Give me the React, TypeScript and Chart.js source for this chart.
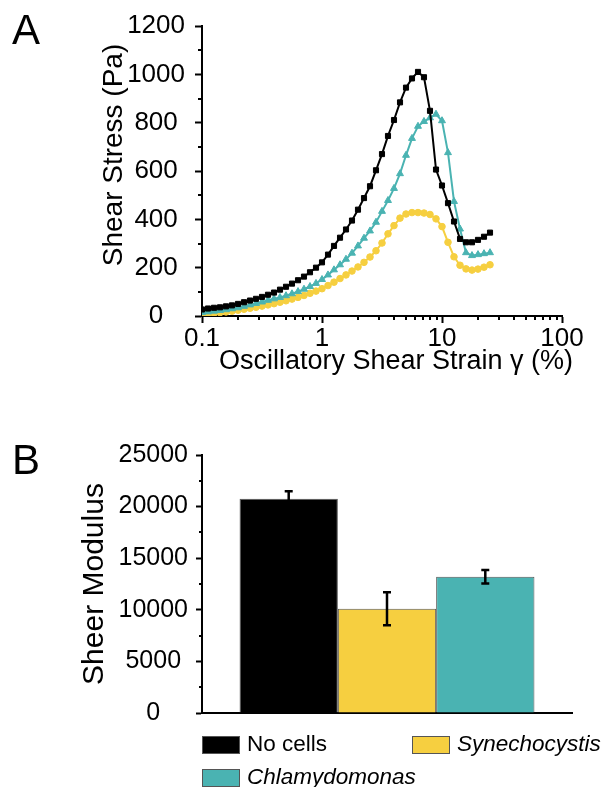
import React, { useEffect, useRef } from 'react';
import { Chart, registerables } from 'chart.js';

Chart.register(...registerables);

// ---------- Panel A data ----------
const STRAIN = [
  0.1, 0.1122, 0.1259, 0.1413, 0.1585, 0.1778, 0.1995, 0.2239, 0.2512, 0.2818,
  0.3162, 0.3548, 0.3981, 0.4467, 0.5012, 0.5623, 0.631, 0.7079, 0.7943, 0.8913,
  1.0, 1.122, 1.259, 1.413, 1.585, 1.778, 1.995, 2.239, 2.512, 2.818,
  3.162, 3.548, 3.981, 4.467, 5.012, 5.623, 6.31, 7.079, 7.943, 8.913,
  10.0, 11.22, 12.59, 14.13, 15.85, 17.78, 19.95, 22.39, 25.12,
];
const NO_CELLS_STRESS = [
  27, 31, 34, 36, 40, 44, 50, 57, 64, 71,
  79, 88, 97, 109, 121, 134, 148, 163, 181, 200,
  222, 254, 290, 324, 358, 395, 440, 488, 537, 603,
  670, 745, 811, 884, 945, 983, 1010, 988, 849, 606,
  540, 467, 391, 319, 305, 305, 315, 328, 345,
];
const CHLAMY_STRESS = [
  14, 17, 20, 23, 26, 30, 34, 40, 46, 52,
  58, 65, 71, 77, 84, 92, 101, 111, 122, 135,
  151, 170, 191, 212, 235, 260, 290, 322, 352, 388,
  433, 478, 528, 589, 665, 735, 785, 805, 820, 835,
  808, 676, 474, 360, 262, 250, 254, 258, 262,
];
const SYNECHO_STRESS = [
  7, 9, 11, 14, 17, 20, 24, 28, 32, 36,
  41, 46, 51, 57, 63, 70, 77, 85, 94, 103,
  113, 126, 140, 155, 170, 186, 203, 222, 244, 270,
  302, 340, 374, 405, 422, 428, 428, 426, 420, 402,
  370, 305, 245, 210, 195, 190, 194, 202, 212,
];
const STRAIN_MAJOR_TICKS = [0.1, 1, 10, 100];
const STRAIN_MINOR_TICKS = [
  0.2, 0.3, 0.4, 0.5, 0.6, 0.7, 0.8, 0.9,
  2, 3, 4, 5, 6, 7, 8, 9,
  20, 30, 40, 50, 60, 70, 80, 90,
];
const STRESS_MINOR_TICKS = [100, 300, 500, 700, 900, 1100];
const STRAIN_TITLE = 'Oscillatory Shear Strain γ (%)';
const STRESS_TITLE = 'Shear Stress (Pa)';

// ---------- Panel B data ----------
const GROUPS = ['No cells', 'Synechocystis', 'Chlamydomonas'];
const MODULUS = [20750, 10100, 13200];
const MODULUS_ERR = [730, 1600, 650];
const MODULUS_MINOR_TICKS = [2500, 7500, 12500, 17500, 22500];
const MODULUS_TITLE = 'Sheer Modulus';

const BLACK = '#000000';
const YELLOW = '#f6cf40';
const TEAL = '#4ab3b2';
const GROUP_COLORS = [BLACK, YELLOW, TEAL];

const FONT = '"Liberation Sans", Arial, Helvetica, sans-serif';

const minorTicksPlugin = {
  id: 'minorTicks',
  afterDraw(chart: any, _args: any, opts: any) {
    const ctx = chart.ctx;
    ctx.save();
    ctx.strokeStyle = '#000';
    ctx.lineWidth = 2;
    (opts.items || []).forEach((item: any) => {
      const scale = chart.scales[item.axis];
      item.values.forEach((v: number) => {
        const p = Math.round(scale.getPixelForValue(v));
        ctx.beginPath();
        if (scale.isHorizontal()) {
          ctx.moveTo(p, scale.top);
          ctx.lineTo(p, scale.top + item.length);
        } else {
          ctx.moveTo(scale.right, p);
          ctx.lineTo(scale.right - item.length, p);
        }
        ctx.stroke();
      });
    });
    ctx.restore();
  },
};

// Axis titles placed relative to the chart area (offsets reproduce the figure's layout)
const axisTitlesPlugin = {
  id: 'axisTitles',
  afterDraw(chart: any, _args: any, opts: any) {
    const ctx = chart.ctx;
    const ca = chart.chartArea;
    (opts.items || []).forEach((it: any) => {
      ctx.save();
      ctx.font = `${it.size}px ${FONT}`;
      ctx.fillStyle = '#000';
      ctx.textAlign = 'center';
      ctx.textBaseline = 'middle';
      if (it.axis === 'x') {
        const x = (ca.left + ca.right) / 2 + it.along;
        const y = ca.bottom + it.across;
        ctx.fillText(it.text, x, y);
      } else {
        const x = ca.left - it.across;
        const y = (ca.top + ca.bottom) / 2 + it.along;
        ctx.translate(x, y);
        ctx.rotate(-Math.PI / 2);
        ctx.fillText(it.text, 0, 0);
      }
      ctx.restore();
    });
  },
};

const errorBarsPlugin = {
  id: 'errorBars',
  afterDatasetsDraw(chart: any, _args: any, opts: any) {
    const ctx = chart.ctx;
    const y = chart.scales.y;
    ctx.save();
    ctx.strokeStyle = '#000';
    ctx.lineWidth = 2.5;
    chart.data.datasets.forEach((ds: any, i: number) => {
      const meta = chart.getDatasetMeta(i);
      const bar = meta.data[0];
      const v = ds.data[0];
      const e = opts.errors[i];
      const yt = y.getPixelForValue(v + e);
      const yb = y.getPixelForValue(v - e);
      const x = bar.x;
      ctx.beginPath();
      ctx.moveTo(x, yt);
      ctx.lineTo(x, yb);
      ctx.moveTo(x - 4, yt);
      ctx.lineTo(x + 4, yt);
      ctx.moveTo(x - 4, yb);
      ctx.lineTo(x + 4, yb);
      ctx.stroke();
    });
    ctx.restore();
  },
};

function StressChart() {
  const ref = useRef<HTMLCanvasElement | null>(null);
  useEffect(() => {
    if (!ref.current) return;
    const tickFont = { family: FONT, size: 26 };
    const chart = new Chart(ref.current, {
      type: 'line',
      data: {
        datasets: [
          {
            label: 'No cells',
            data: STRAIN.map((x, i) => ({ x, y: NO_CELLS_STRESS[i] })),
            borderColor: BLACK,
            backgroundColor: BLACK,
            pointStyle: 'rect',
            pointRadius: 3.6,
            pointBorderWidth: 1,
            borderWidth: 2,
          },
          {
            label: 'Chlamydomonas',
            data: STRAIN.map((x, i) => ({ x, y: CHLAMY_STRESS[i] })),
            borderColor: TEAL,
            backgroundColor: TEAL,
            pointStyle: 'triangle',
            pointRadius: 4,
            pointBorderWidth: 1,
            borderWidth: 2,
          },
          {
            label: 'Synechocystis',
            data: STRAIN.map((x, i) => ({ x, y: SYNECHO_STRESS[i] })),
            borderColor: YELLOW,
            backgroundColor: YELLOW,
            pointStyle: 'circle',
            pointRadius: 3.3,
            pointBorderWidth: 1,
            borderWidth: 2,
          },
        ],
      },
      options: {
        responsive: false,
        animation: false,
        devicePixelRatio: 1,
        layout: { padding: { left: 0, right: 44, top: 26, bottom: 0 } },
        plugins: {
          legend: { display: false },
          tooltip: { enabled: false },
          minorTicks: {
            items: [
              { axis: 'x', values: STRAIN_MINOR_TICKS, length: 4 },
              { axis: 'y', values: STRESS_MINOR_TICKS, length: 4 },
            ],
          },
          axisTitles: {
            items: [
              { axis: 'x', text: STRAIN_TITLE, size: 27, along: 14, across: 46 },
              { axis: 'y', text: STRESS_TITLE, size: 28, along: -16, across: 88 },
            ],
          },
        } as any,
        scales: {
          x: {
            type: 'logarithmic',
            min: 0.1,
            max: 100,
            afterBuildTicks: (s: any) => {
              s.ticks = STRAIN_MAJOR_TICKS.map((v) => ({ value: v }));
            },
            afterFit: (s: any) => {
              s.height = 74;
            },
            ticks: {
              autoSkip: false,
              maxRotation: 0,
              color: '#000',
              font: tickFont,
              padding: 0,
              callback: (v: any) => String(v),
            },
            grid: {
              display: true,
              drawOnChartArea: false,
              drawTicks: true,
              tickLength: 7,
              tickColor: '#000',
              tickWidth: 2,
            },
            border: { display: true, color: '#000', width: 2 },
          },
          y: {
            min: 0,
            max: 1200,
            afterFit: (s: any) => {
              s.width = 202;
            },
            ticks: {
              stepSize: 200,
              color: '#000',
              font: tickFont,
              padding: 10,
              crossAlign: 'center',
              callback: (v: any) => String(v),
            },
            grid: {
              display: true,
              drawOnChartArea: false,
              drawTicks: true,
              tickLength: 7,
              tickColor: '#000',
              tickWidth: 2,
            },
            border: { display: true, color: '#000', width: 2 },
          },
        },
      } as any,
      plugins: [minorTicksPlugin, axisTitlesPlugin],
    });
    return () => chart.destroy();
  }, []);
  return (
    <canvas
      ref={ref}
      width={606}
      height={390}
      style={{ position: 'absolute', left: 0, top: 0, width: 606, height: 390 }}
    />
  );
}

function ModulusChart() {
  const ref = useRef<HTMLCanvasElement | null>(null);
  useEffect(() => {
    if (!ref.current) return;
    const chart = new Chart(ref.current, {
      type: 'bar',
      data: {
        labels: [''],
        datasets: GROUPS.map((g, i) => ({
          label: g,
          data: [MODULUS[i]],
          backgroundColor: GROUP_COLORS[i],
          borderColor: '#555',
          borderWidth: 1,
          categoryPercentage: 0.797,
          barPercentage: 1.0,
        })),
      },
      options: {
        responsive: false,
        animation: false,
        devicePixelRatio: 1,
        layout: { padding: { left: 0, right: 34, top: 65, bottom: 0 } },
        plugins: {
          legend: { display: false },
          tooltip: { enabled: false },
          minorTicks: {
            items: [{ axis: 'y', values: MODULUS_MINOR_TICKS, length: 3 }],
          },
          errorBars: { errors: MODULUS_ERR },
        } as any,
        scales: {
          x: {
            afterFit: (s: any) => {
              s.height = 74;
            },
            ticks: { display: false },
            grid: { display: false },
            border: { display: true, color: '#000', width: 2 },
          },
          y: {
            min: 0,
            max: 25000,
            afterFit: (s: any) => {
              s.width = 202;
            },
            ticks: {
              stepSize: 5000,
              color: '#000',
              font: { family: FONT, size: 25 },
              padding: 8,
              crossAlign: 'center',
              callback: (v: any) => String(v),
            },
            grid: {
              display: true,
              drawOnChartArea: false,
              drawTicks: true,
              tickLength: 6,
              tickColor: '#000',
              tickWidth: 2,
            },
            border: { display: true, color: '#000', width: 2 },
            title: {
              display: true,
              text: MODULUS_TITLE,
              color: '#000',
              font: { family: FONT, size: 30 },
              padding: { top: 77, bottom: 0 },
            },
          },
        },
      } as any,
      plugins: [minorTicksPlugin, errorBarsPlugin],
    });
    return () => chart.destroy();
  }, []);
  return (
    <canvas
      ref={ref}
      width={606}
      height={397}
      style={{ position: 'absolute', left: 0, top: 390, width: 606, height: 397 }}
    />
  );
}

function LegendItem({ color, label, italic, left, top }: any) {
  return (
    <div
      style={{
        position: 'absolute',
        left,
        top,
        display: 'flex',
        alignItems: 'center',
        height: 19,
        whiteSpace: 'nowrap',
      }}
    >
      <div
        style={{
          width: 38,
          height: 18,
          background: color,
          border: '1px solid #555',
          boxSizing: 'border-box',
          marginRight: 7,
        }}
      />
      <span style={{ fontSize: 22.5, fontStyle: italic ? 'italic' : 'normal', lineHeight: 1, color: '#000' }}>
        {label}
      </span>
    </div>
  );
}

export default function App() {
  return (
    <div
      style={{
        position: 'absolute',
        left: 0,
        top: 0,
        width: 606,
        height: 787,
        background: '#fff',
        overflow: 'hidden',
        fontFamily: FONT,
      }}
    >
      <StressChart />
      <ModulusChart />
      <div style={{ position: 'absolute', left: 12, top: 9, fontSize: 42, lineHeight: 1 }}>A</div>
      <div style={{ position: 'absolute', left: 12, top: 439, fontSize: 42, lineHeight: 1 }}>B</div>
      <LegendItem color={BLACK} label={GROUPS[0]} italic={false} left={202} top={735} />
      <LegendItem color={YELLOW} label={GROUPS[1]} italic={true} left={412} top={735} />
      <LegendItem color={TEAL} label={GROUPS[2]} italic={true} left={202} top={768} />
    </div>
  );
}
